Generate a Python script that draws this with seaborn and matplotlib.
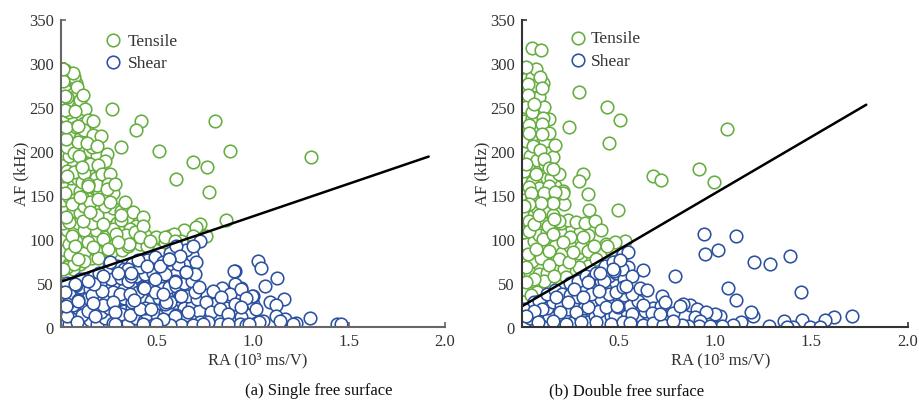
import pandas as pd
import matplotlib
matplotlib.use('Agg')
import matplotlib.pyplot as plt
import seaborn as sns

# values, as (RA, AF)
tensile_a_fill = [
    (.01,60),(.03,62),(.01,75),(.04,72),(.02,88),(.06,80),(.01,100),(.04,95),(.08,85),(.03,110),(.07,108),(.11,92),
    (.01,118),(.05,125),(.09,118),(.13,105),(.17,98),(.02,135),(.06,132),(.1,130),(.14,115),(.18,110),(.22,92),(.26,85),
    (.01,145),(.04,148),(.08,142),(.12,138),(.16,125),(.2,120),(.24,108),(.28,96),(.32,88),(.02,160),(.06,158),(.1,155),
    (.13,150),(.17,140),(.21,135),(.25,128),(.29,118),(.33,110),(.37,100),(.41,94),(.01,172),(.05,170),(.09,168),(.13,172),
    (.17,158),(.2,152),(.24,148),(.27,135),(.31,132),(.35,120),(.39,115),(.44,105),(.02,185),(.06,183),(.1,180),(.15,178),
    (.18,170),(.22,165),(.27,152),(.01,198),(.04,195),(.08,205),(.12,192),(.16,190),(.2,182),(.02,210),(.06,215),(.11,205),
    (.15,200),(.19,196),(.01,225),(.05,222),(.1,215),(.14,222),(.03,238),(.07,235),(.11,240),(.01,252),(.05,255),(.09,250),
    (.02,270),(.06,265),(.1,258),(.04,285),(.02,292),(.08,278),(.15,186),(.25,95),(.35,92),(.3,100),(.15,85),(.2,80),
    (.1,72),(.06,66),(.16,78),(.38,103),(.45,92),(.52,100),(.56,104),(.61,100),
    (.03,68),(.07,72),(.12,84),(.18,88),(.23,102),(.27,112),(.31,122),(.36,112),(.12,110),(.16,118),(.08,98),(.04,120),
    (.07,145),(.11,148),(.15,142),(.19,128),(.23,138),(.03,178),(.07,176),(.11,165),(.15,160),(.19,162),(.03,205),(.07,198),
    (.12,175),(.16,205),(.04,245),(.08,228),(.12,232),(.03,262),(.07,285),
]
tensile_a_read = [
    (.064,289),(.081,273),(.116,264),(.125,248),(.142,236),(.166,235),(.12,224),(.168,218),(.208,217),(.265,248),
    (.416,234),(.393,224),(.31,205),(.509,200),(.238,197),(.229,189),(.194,184),(.094,195),(.09,211),(.024,214),
    (.026,228),(.02,263),(.012,280),(.012,294),(.02,247),(.073,246),(.09,229),(.133,210),(.185,206),(.03,172),
    (.107,182),(.212,174),(.255,174),(.14,163),(.244,163),(.139,160),(.238,157),(.28,163),(.194,146),(.255,142),
    (.333,142),(.376,131),(.315,128),(.428,125),(.22,117),(.116,121),(.026,125),(.056,140),(.02,153),(.099,148),
    (.151,131),(.336,105),(.289,106),(.385,108),(.428,115),(.497,102),(.353,94.5),(.298,96.5),(.22,100),(.142,96.5),
    (.056,104),(.194,79),(.121,75.5),(.047,83),(.012,66),(.09,77),(.246,89),(.168,91),(.073,92.6),(.41,102),
    (.463,98),(.54,97),(.726,117),(.861,122),(.639,110),(.587,106),(.705,113.5),(.757,104),(.687,104),(.627,98),
    (.541,102),(.593,98),(.60,168),(.69,188),(.76,182),(.80,234),(.88,200),(.77,154),(1.30,194),
]
shear_a_fill = [
    (.01,8),(.04,3),(.07,12),(.11,4),(.15,8),(.19,3),(.23,10),(.27,5),(.31,8),(.35,4),(.39,10),(.43,7),(.47,9),(.51,6),
    (.55,10),(.59,7),(.63,10),(.67,6),(.71,11),(.75,9),(.01,20),(.05,17),(.09,22),(.13,24),(.17,20),(.21,17),(.25,22),
    (.29,24),(.33,18),(.37,23),(.41,27),(.45,15),(.5,14),(.54,16),(.58,20),(.64,22),(.68,24),(.72,18),(.01,32),(.05,30),
    (.1,34),(.14,33),(.19,30),(.24,32),(.28,30),(.33,33),(.37,29),(.42,32),(.47,30),(.51,33),(.57,36),(.61,40),(.66,35),
    (.71,32),(.02,44),(.06,42),(.1,45),(.15,43),(.2,46),(.25,44),(.29,47),(.33,43),(.38,45),(.42,52),(.47,44),(.52,46),
    (.56,45),(.6,47),(.64,50),(.68,52),(.03,50),(.08,48),(.12,55),(.17,58),(.21,52),(.26,55),(.31,56),(.35,52),(.39,58),
    (.44,60),(.48,62),(.52,58),(.56,68),(.6,60),(.64,72),(.68,82),(.25,68),(.29,70),(.33,66),(.37,72),(.41,68),(.45,76),
    (.49,80),(.53,74),(.57,84),(.61,72),(.65,88),(.82,8),(.86,22),(.9,14),(.98,14),(1.0,26),(.76,36),(.8,26),(.84,44),
    (.03,12),(.06,25),(.11,14),(.16,36),(.22,25),(.27,40),(.31,15),(.36,14),(.4,40),(.44,22),(.49,40),(.55,22),(.6,14),
    (.65,14),(.7,40),(.35,66),(.4,76),(.2,62),(.1,55),(.04,38),
]
shear_a_read = [
    (.722,97.6),(.688,92.6),(.601,92.6),(.618,81),(.563,77.4),(.705,73.5),(.65,63),(.696,60),(.593,52.7),(.541,60),
    (.719,46),(.792,41),(.904,64),(.939,44),(.904,49),(.878,37.6),(.999,35.6),(.835,33.8),(.757,28),(.904,26),
    (.622,35.6),(.567,28),(.541,26),(.662,16.7),(.593,12),(.783,16.7),(.826,20.5),(.939,11),(.87,14.8),(.722,5.7),
    (.627,2),(.826,3.4),(.93,3.4),(1.017,4.6),(.567,2),(.687,2),(.764,5.7),(.868,3.4),(.965,2),(.53,9),
    (1.025,75),(1.043,67.5),(1.124,55.5),(1.065,47),(1.159,32),(1.09,29),(1.12,25.4),(.996,35.6),(1.017,20.5),(1.12,13),
    (1.167,9),(1.142,6.5),(1.225,4),(1.207,3),(1.298,10),(1.436,3.4),(1.459,3),(1.052,7),(1.03,6),(.979,3.4),
    (.935,43),(.899,63.5),(.965,33),(.939,22.4),(.087,31),(.142,18.6),(.307,37.6),(.428,45),(.411,20.5),(.471,20.5),
    (.272,28),(.212,41),(.173,49),(.03,26),(.082,5.4),(.177,13),(.281,16.7),(.489,54.7),(.298,62),(.367,58.4),
    (.22,58.4),(.142,52.7),(.073,49),(.359,37.6),(.02,39.5),(.026,24),(.09,30),(.168,27),(.362,62),(.45,70),
    (.515,69),(.593,51.6),(.65,63),(.433,44),(.381,31),(.549,28.8),(.627,35.6),(.53,37.6),(.281,3.4),(.428,3.4),
    (.497,3.4),(.738,3.4),(.255,73.6),(.561,77.4),
]
tensile_b_fill = [
    (.01,32),(.02,42),(.01,60),(.04,62),(.08,40),(.01,75),(.05,75),(.09,60),(.13,62),(.17,68),(.02,95),(.06,98),(.1,90),
    (.14,80),(.18,78),(.22,66),(.26,80),(.3,78),(.34,70),(.01,108),(.05,110),(.09,105),(.13,95),(.17,92),(.21,84),
    (.25,92),(.29,84),(.33,95),(.38,85),(.42,85),(.46,88),(.02,128),(.06,128),(.1,122),(.13,108),(.18,112),(.22,108),
    (.26,112),(.3,108),(.34,105),(.01,145),(.05,148),(.08,135),(.12,132),(.16,128),(.2,118),(.24,122),(.28,120),
    (.02,165),(.05,165),(.09,158),(.13,145),(.18,145),(.01,178),(.05,185),(.09,178),(.13,170),(.17,160),(.22,140),
    (.01,198),(.04,195),(.08,190),(.12,185),(.15,170),(.02,212),(.06,215),(.1,208),(.13,198),(.16,193),(.01,235),
    (.05,238),(.08,225),(.12,212),(.02,250),(.05,245),(.09,262),(.02,282),(.05,285),(.015,270),(.11,278),(.07,275),
]
tensile_b_read = [
    (.052,318),(.099,315),(.073,294),(.021,296),(.093,284),(.03,277),(.104,272),(.03,264),(.298,268),(.44,250),
    (.509,236),(.453,209.6),(.246,228),(.116,250),(.064,254),(.142,237),(.11,238),(.038,230),(.104,231),(.142,221),
    (.104,220),(.038,220.6),(.173,207),(.056,206.5),(.093,201),(.116,191),(.021,185.6),(.139,181),(.194,174),(.073,174),
    (.159,180),(.038,159),(.142,161),(.211,155),(.214,152),(.116,153),(.173,154),(.047,153),(.159,141),(.099,141),
    (.038,140),(.035,121),(.035,109),(.133,114.7),(.194,121),(.251,103),(.327,118),(.11,100),(.159,106),(.306,90.8),
    (.194,77.4),(.099,79),(.142,70.6),(.03,83),(.436,94.5),(.116,52.7),(.047,36.4),(.064,54.7),(.228,56.6),(.168,58.4),
    (.298,68),(.246,73.6),(.341,86.9),(.021,68),(.073,89),(.142,87),(.021,51),(.263,85),(.211,96.5),(.315,102),
    (.375,92.6),(.064,117),(.09,127),(.168,123),(.012,138),(1.066,225),(.917,179.6),(.998,165),(.682,171.6),(.72,167.4),
    (.319,174),(.296,166),(.344,151),(.348,133),(.5,133),(.379,121),(.409,110.5),(.535,98),(.483,96.5),(.44,92.6),
    (.384,77.4),
]
shear_b_fill = [
    (.01,5),(.04,10),(.08,15),(.12,3),(.14,12),(.18,6),(.22,12),(.26,4),(.3,12),(.34,6),(.38,12),(.42,8),(.46,12),(.5,8),
    (.54,12),(.58,8),(.62,10),(.66,8),(.7,10),(.74,8),(.78,5),(.01,20),(.06,28),(.09,30),(.13,22),(.16,28),(.2,24),
    (.24,20),(.28,26),(.32,22),(.36,28),(.4,18),(.44,30),(.48,14),(.52,30),(.56,24),(.6,30),(.64,18),(.68,22),(.72,24),
    (.13,38),(.17,42),(.21,38),(.25,36),(.29,34),(.33,44),(.37,48),(.41,32),(.45,38),(.49,50),(.53,36),(.57,38),(.61,44),
    (.25,50),(.29,52),(.33,58),(.37,56),(.41,52),(.45,58),(.49,62),(.53,55),(.55,68),(.43,70),(.47,74),(.52,66),
]
shear_b_read = [
    (.104,20.5),(.199,16.7),(.28,16.7),(.341,22.4),(.488,39.5),(.436,22.4),(.497,22.4),(.384,62),(.479,64),(.523,83),
    (.427,52.7),(.358,37.6),(.272,43),(.177,33.8),(.064,18.6),(.021,13),(.082,5.4),(.159,7.2),(.228,3.4),(.306,5.4),
    (.384,5.4),(.462,3.4),(.523,5.4),(.237,28),(.315,33.8),(.401,41),(.523,45),(.341,51),(.552,85),(.509,76.6),
    (.474,66),(.63,65),(.405,62),(.57,57.7),(.538,47),(.647,42),(.725,35.6),(.742,28.8),(.63,25),(.495,23.6),
    (.57,14.8),(.673,16),(.782,16),(.794,58.4),(.872,25),(.837,26),(.82,24),(.985,13),(.914,13),(1.028,13),
    (.945,106),(1.108,103.6),(.952,82.8),(1.018,88),(1.205,73.6),(1.289,72),(1.388,81),(1.068,44.4),(1.108,30.4),(1.447,39.5),
    (1.712,12.5),(1.62,11.4),(1.573,8),(1.455,7.6),(1.36,6.8),(1.196,13),(1.187,16.7),(1.135,6),(1.097,2.3),(1.037,1.5),
    (1.279,1),(1.407,.5),(1.374,.5),(1.495,.5),(1.547,.4),(.907,21),(.981,12),(1.002,14.8),(.955,16.7),(.898,11),
    (.924,7),(.919,1),(.973,1.5),(.863,1.5),(.561,4.6),(.628,2.3),(.682,4.6),(.734,2.3),(.829,2.3),(.717,14.8),(.784,7.2),
]
line_a_ra = [0.0, 1.915]
line_a_af = [51.6, 194]
line_b_ra = [0.0, 1.786]
line_b_af = [23.6, 253]
x_ticks = [0.5, 1.0, 1.5, 2.0]
y_ticks = [0, 50, 100, 150, 200, 250, 300, 350]

green = '#66ad40'
blue = '#2b509f'
text_col = '#333333'

sns.set_style('white')
plt.rcParams['font.family'] = ['Liberation Serif', 'DejaVu Serif']

fig = plt.figure(figsize=(9.19, 4.02), dpi=100)
ax_a = fig.add_axes([61 / 919, 74 / 402, 384 / 919, 307.5 / 402])
ax_b = fig.add_axes([522 / 919, 74 / 402, 385.5 / 919, 307.5 / 402])


def draw_panel(ax, tensile, shear, line_ra, line_af, spine_col, legend_pos, pad, label_x):
    ten = pd.DataFrame(tensile, columns=['RA', 'AF'])
    she = pd.DataFrame(shear, columns=['RA', 'AF'])
    sns.scatterplot(data=ten, x='RA', y='AF', ax=ax, s=82, facecolor='white', edgecolor=green,
                    linewidth=1.15, label='Tensile', zorder=2)
    sns.scatterplot(data=she, x='RA', y='AF', ax=ax, s=82, facecolor='white', edgecolor=blue,
                    linewidth=1.15, label='Shear', zorder=3)
    sns.lineplot(x=line_ra, y=line_af, ax=ax, color='black', linewidth=1.8, zorder=4, legend=False)

    ax.set_xlim(0, 2)
    ax.set_ylim(0, 350)
    ax.set_xticks(x_ticks)
    ax.set_xticklabels(['%.1f' % t for t in x_ticks])
    ax.set_yticks(y_ticks)
    ax.tick_params(direction='in', length=3.5, width=1.2, color=spine_col, labelsize=12,
                   labelcolor=text_col, left=True, bottom=True)
    ax.tick_params(axis='y', pad=5)
    ax.tick_params(axis='x', pad=4.5)
    ax.set_xlabel('RA (10³ ms/V)', fontsize=12, color=text_col)
    ax.xaxis.set_label_coords(label_x, -0.08)
    ax.set_ylabel('AF (kHz)', fontsize=12, color=text_col, labelpad=0)
    sns.despine(ax=ax)
    for side in ['left', 'bottom']:
        ax.spines[side].set_color(spine_col)
        ax.spines[side].set_linewidth(1.5)
        ax.spines[side].set_zorder(5)
    leg = ax.legend(loc='upper left', bbox_to_anchor=legend_pos, frameon=False, fontsize=12.5,
                    labelspacing=0.36, handlelength=1, handletextpad=pad, borderpad=0, borderaxespad=0)
    for t in leg.get_texts():
        t.set_color(text_col)


draw_panel(ax_a, tensile_a_fill + tensile_a_read, shear_a_fill + shear_a_read,
           line_a_ra, line_a_af, '#666666', (0.114, 0.958), 0.33, 0.513)
draw_panel(ax_b, tensile_b_fill + tensile_b_read, shear_b_fill + shear_b_read,
           line_b_ra, line_b_af, '#333333', (0.124, 0.966), 0.22, 0.516)

fig.text(319 / 919, 1 - 391 / 402, '(a) Single free surface', fontsize=12, color='#111111', ha='center', va='center')
fig.text(627 / 919, 1 - 391 / 402, '(b) Double free surface', fontsize=12, color='#111111', ha='center', va='center')

fig.savefig('out.png', dpi=100)
